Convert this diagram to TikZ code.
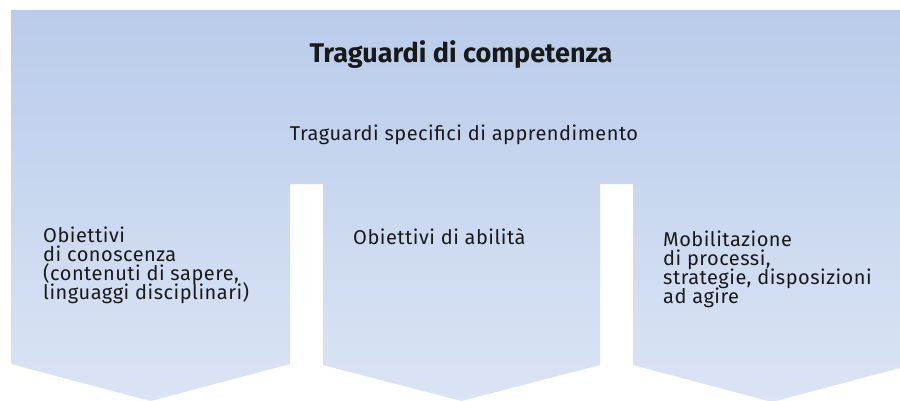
\documentclass[tikz,border=0pt]{standalone}
\usepackage{fontspec}
\setmainfont{Fira Sans}
\newfontfamily\bodyfont[LetterSpace=2.5]{Fira Sans}
\definecolor{bgtop}{RGB}{185,204,234}
\definecolor{bgbot}{RGB}{219,228,245}
\newcommand{\lnstack}[1]{\vtop{\baselineskip=19pt\lineskiplimit=-20pt\lineskip=0pt #1}}
\begin{document}
\begin{tikzpicture}[x=1pt,y=-1pt,
  lbl/.style={inner sep=0pt,anchor=base west,
    font=\bodyfont\fontsize{20}{19}\selectfont,text=black!90},
  ttl/.style={inner sep=0pt,anchor=base,font=\bfseries\fontsize{27}{28}\selectfont,text=black!90},
  sub/.style={inner sep=0pt,anchor=base,font=\bodyfont\fontsize{20}{20}\selectfont,text=black!90}]
\useasboundingbox (0,0) rectangle (900,400);
\begin{scope}
\clip (0,0) rectangle (900,400);
\shade[top color=bgtop,bottom color=bgbot]
  (11,10) -- (911,10) -- (911,365) -- (772,402) -- (633,365) -- (633,184)
  -- (600,184) -- (600,365) -- (461.5,401) -- (323,365) -- (323,184)
  -- (290,184) -- (290,364) -- (150.5,401) -- (11,364) -- cycle;
\end{scope}
\node[ttl] (title) at (461,62) {Traguardi di competenza};
\node[sub] (spec) at (464,140) {Traguardi specifici di apprendimento};
\node[lbl] (c1) at (43,242) {\lnstack{\hbox{Obiettivi}\hbox{di conoscenza}\hbox{(contenuti di sapere,}\hbox{linguaggi disciplinari)}}};
\node[lbl] (c2) at (353,244) {\lnstack{\hbox{Obiettivi di abilità}}};
\node[lbl] (c3) at (663,246) {\lnstack{\hbox{Mobilitazione}\hbox{di processi,}\hbox{strategie, disposizioni}\hbox{ad agire}}};
\end{tikzpicture}
\end{document}
